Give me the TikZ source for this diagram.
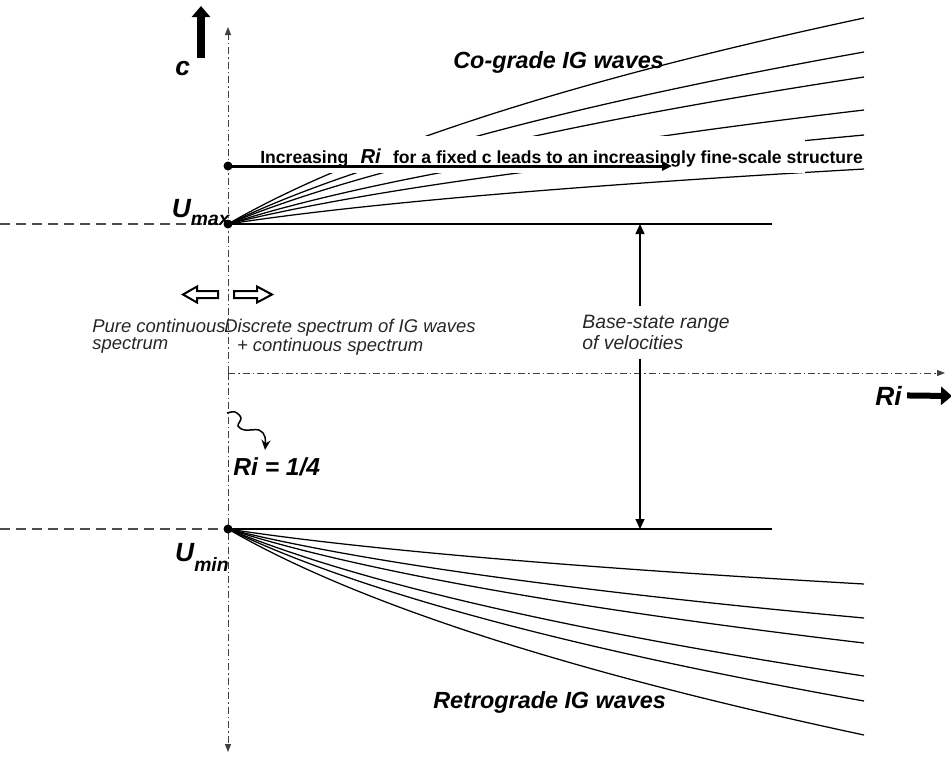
\documentclass[tikz,border=0pt]{standalone}
\usepackage{fontspec}
\setmainfont{Liberation Sans}
\usetikzlibrary{arrows.meta}

\begin{document}
\begin{tikzpicture}[x=0.2mm, y=-0.2mm,
    axisline/.style={black!75, line width=0.2mm, dash pattern=on 1.4mm off 0.6mm on 0.3mm off 0.6mm, -{Triangle[length=1.6mm,width=1.2mm]}},
    guide/.style={black!70, line width=0.3mm, dash pattern=on 2mm off 1.2mm},
    uline/.style={line width=0.45mm},
    fan/.style={line width=0.25mm},
    dot/.style={circle, fill, inner sep=0pt, minimum size=1.8mm},
    bigarrow/.style={line width=1.6mm, -{Triangle[length=2.2mm,width=3.6mm]}},
    rangeline/.style={line width=0.25mm, -{Triangle[length=2mm,width=1.8mm]}},
    hollow/.style={line width=0.4mm, line join=miter},
    speclabel/.style={font=\fontsize{10.5}{9.5}\selectfont\itshape, text=black!85, align=left, inner sep=0pt},
    wavelabel/.style={font=\fontsize{13.3}{15}\selectfont\bfseries\itshape, inner sep=0pt},
    sym/.style={font=\fontsize{15}{17}\selectfont\bfseries\itshape, inner sep=0pt}]
    \useasboundingbox (0,0) rectangle (951,758);

    % Define the positions
    \coordinate (origin) at (228,373);
    \coordinate (ctop) at (228,27);
    \coordinate (cbot) at (228,752);
    \coordinate (ritip) at (945,373);
    \coordinate (umax) at (228,224);
    \coordinate (umin) at (228,529);
    \coordinate (umaxl) at (0,224);
    \coordinate (uminl) at (0,529);
    \coordinate (umaxr) at (772,224);
    \coordinate (uminr) at (772,529);

    % Draw the axes
    \draw[axisline] (origin) -- (ctop);
    \draw[axisline] (origin) -- (cbot);
    \draw[axisline] (origin) -- (ritip);

    % Draw the wave branches
    \foreach \d in {55,89,114,147,172,206} {
        \draw[fan] (umax) .. controls (356,224-0.36*\d) and (568,224-0.693*\d) .. (864,224-\d);
        \draw[fan] (umin) .. controls (356,529+0.36*\d) and (568,529+0.693*\d) .. (864,529+\d);
    }
    \fill[white] (300,136) rectangle (805,173);

    % Draw the velocity limits
    \draw[guide] (umaxl) -- (umax);
    \draw[guide] (uminl) -- (umin);
    \draw[uline] (umax) -- (umaxr);
    \draw[uline] (umin) -- (uminr);
    \node[dot] (umaxdot) at (umax) {};
    \node[dot] (umindot) at (umin) {};
    \node[sym, anchor=base east] (umaxlabel) at (230,217) {U\raisebox{-1.6mm}{\fontsize{11}{11}\selectfont max}};
    \node[sym, anchor=base east] (uminlabel) at (229,561) {U\raisebox{-2mm}{\fontsize{11}{11}\selectfont min}};

    % Fixed c
    \node[dot] (fixc) at (228,166) {};
    \coordinate (fixend) at (672,166);
    \draw[line width=0.6mm, -{Triangle[length=2mm,width=1.8mm]}] (fixc.center) -- (fixend);
    \node[anchor=base west, inner sep=0pt, font=\fontsize{10}{11}\selectfont\bfseries] (fixtext) at (260,163)
        {Increasing\hspace{0.7em}{\itshape\fontsize{11.5}{11}\selectfont Ri}\hspace{0.7em}for a fixed c leads to an increasingly fine-scale structure};

    % Base-state range
    \coordinate (rtop) at (640,224);
    \coordinate (rbot) at (640,529);
    \node[speclabel, font=\fontsize{11}{11.8}\selectfont\itshape, inner ysep=1.8mm, anchor=north west] (range) at (582,306) {Base-state range\\of velocities};
    \draw[rangeline] (range.north -| rtop) -- (rtop);
    \draw[rangeline] (range.south -| rtop) -- (rbot);

    % Spectrum
    \draw[hollow] (218,291) -- (197,291) -- (197,286.5) -- (183,294.5) -- (197,302.5) -- (197,298) -- (218,298) -- cycle;
    \draw[hollow] (234,291) -- (257,291) -- (257,286.5) -- (272,294.5) -- (257,302.5) -- (257,298) -- (234,298) -- cycle;
    \node[speclabel, anchor=north west] (pure) at (92,319) {Pure continuous\\spectrum};
    \node[speclabel, anchor=north west] (discrete) at (224,319) {Discrete spectrum of IG waves\\\hspace*{1.3ex}+ continuous spectrum};

    % Ri = 1/4
    \draw[line width=0.3mm, -{Stealth[length=2mm,width=1.8mm]}] plot[smooth, tension=0.6] coordinates {(227,413) (235,412) (241,418) (238,426) (245,430) (259,430) (265,437) (265,450)};
    \node[sym, font=\fontsize{14}{16}\selectfont\bfseries\itshape, anchor=base west] (riquarter) at (233,475) {Ri = 1/4};

    % Axis labels
    \node[sym, anchor=base west] (clabel) at (175,75) {c};
    \coordinate (cfoot) at (201,58);
    \coordinate (chead) at (201,6);
    \draw[bigarrow] (cfoot) -- (chead);
    \node[sym, anchor=base west] (rilabel) at (875,405) {Ri};
    \coordinate (riend) at (952,396);
    \draw[bigarrow, line width=1.2mm] ([xshift=1mm]rilabel.east) -- (riend);

    % Wave labels
    \node[wavelabel, anchor=base west] (cograde) at (453,68) {Co-grade IG waves};
    \node[wavelabel, anchor=base west] (retro) at (433,708) {Retrograde IG waves};
\end{tikzpicture}
\end{document}
